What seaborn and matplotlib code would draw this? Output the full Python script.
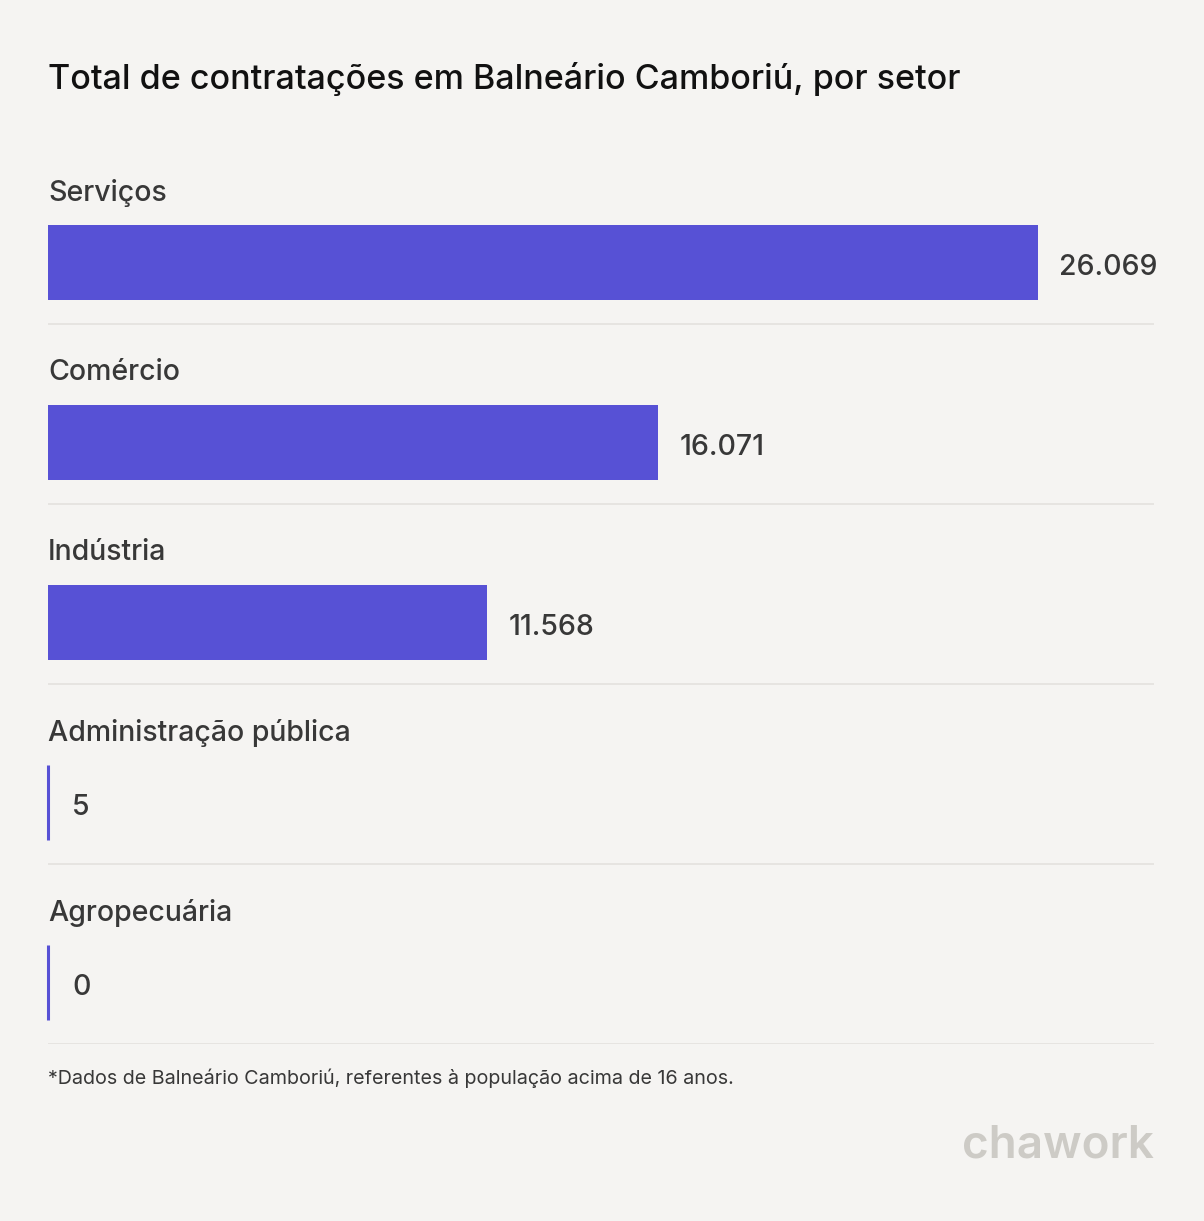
import matplotlib
matplotlib.use("Agg")
import matplotlib.pyplot as plt
import seaborn as sns
import pandas as pd

categories = ["Serviços", "Comércio", "Indústria", "Administração pública", "Agropecuária"]
values = [26069, 16071, 11568, 5, 0]
value_labels = ["26.069", "16.071", "11.568", "5", "0"]

title = "Total de contratações em Balneário Camboriú, por setor"
footnote = "*Dados de Balneário Camboriú, referentes à população acima de 16 anos."
brand = "chawork"

BG = "#f5f4f2"
BAR = "#5751d5"
TXT = "#383838"
SEP = "#e2e0dc"

sns.set_theme(style="white")
plt.rcParams["font.family"] = ["Inter", "DejaVu Sans"]

W, H = 1204, 1221
fig = plt.figure(figsize=(W / 100, H / 100), dpi=100, facecolor=BG)
ax = fig.add_axes([48 / W, 1 - 1044 / H, 1106 / W, 900 / H])
ax.set_facecolor(BG)

df = pd.DataFrame({"setor": categories, "valor": values})
sns.barplot(data=df, x="valor", y="setor", orient="h", color=BAR,
            saturation=1, width=75 / 180, ax=ax, edgecolor=BAR, linewidth=0)

xmax = 1106 / 990 * max(values)
ax.set_xlim(0, xmax)
ax.set_ylim(4 + 0.342, -0.658)

px_per_unit = 990 / max(values)
for p in ax.patches:
    if p.get_width() * px_per_unit < 3:
        p.set_linewidth(2.2)
        p.set_clip_on(False)

for i, (cat, v, lab) in enumerate(zip(categories, values, value_labels)):
    ax.text(0, i - 0.386, cat, ha="left", va="center", fontsize=20.5,
            color=TXT, fontweight="medium")
    off = 21 if v * px_per_unit >= 3 else 24
    ax.annotate(lab, (v, i), xytext=(off, -5), textcoords="offset pixels",
                ha="left", va="center", fontsize=20.5, color=TXT,
                fontweight="medium")
    ax.axhline(i + 0.342, color=SEP, lw=1.1, xmin=0, xmax=1)

ax.set_xlabel("")
ax.set_ylabel("")
ax.set_xticks([])
ax.set_yticks([])
for s in ax.spines.values():
    s.set_visible(False)

fig.text(48 / W, 1 - 79 / H, title, ha="left", va="center", fontsize=24.5,
         color="#111111", fontweight="medium")
fig.text(48 / W, 1 - 1078 / H, footnote, ha="left", va="center", fontsize=14.2,
         color=TXT)
fig.text(1154 / W, 1 - 1145 / H, brand, ha="right", va="center", fontsize=33,
         color="#cdcbc6", fontweight="semibold")

fig.savefig("out.png", dpi=100, facecolor=BG)
